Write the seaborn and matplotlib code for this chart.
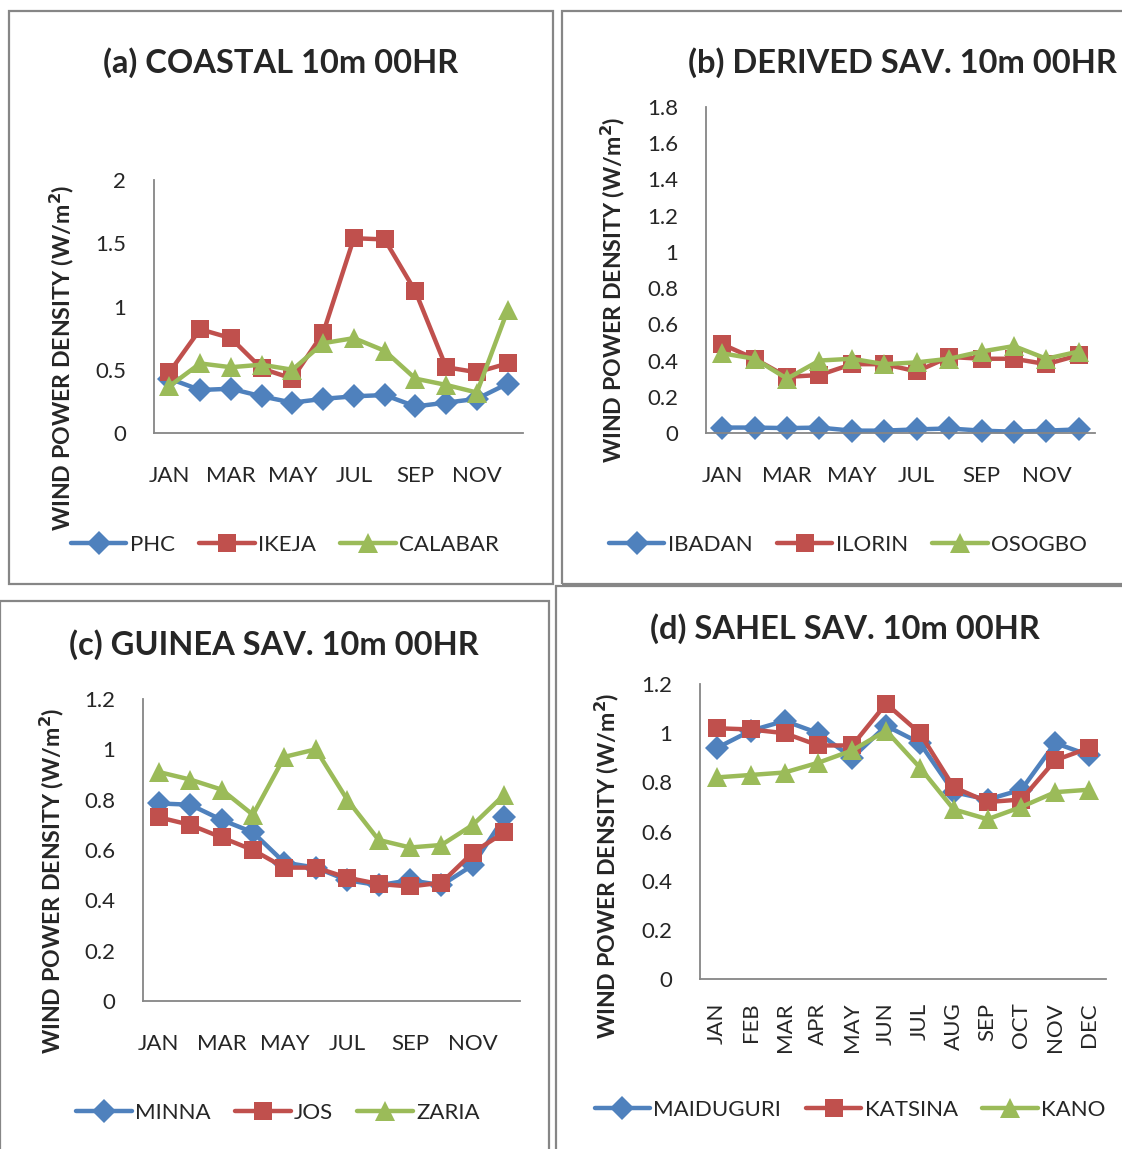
import numpy as np
import pandas as pd
import matplotlib
matplotlib.use("Agg")
import matplotlib.pyplot as plt
from matplotlib.patches import Rectangle
import seaborn as sns

sns.set_style("white")
plt.rcParams['font.family'] = ['Lato', 'DejaVu Sans']

months = ["JAN", "FEB", "MAR", "APR", "MAY", "JUN", "JUL", "AUG", "SEP", "OCT", "NOV", "DEC"]

# (a) Coastal
coastal_names = ["PHC", "IKEJA", "CALABAR"]
phc = [0.43, 0.34, 0.35, 0.29, 0.24, 0.27, 0.29, 0.30, 0.21, 0.24, 0.27, 0.39]
ikeja = [0.48, 0.82, 0.75, 0.51, 0.43, 0.79, 1.54, 1.53, 1.12, 0.52, 0.48, 0.55]
calabar = [0.37, 0.55, 0.52, 0.54, 0.50, 0.71, 0.75, 0.65, 0.43, 0.38, 0.32, 0.97]

# (b) Derived savannah
derived_names = ["IBADAN", "ILORIN", "OSOGBO"]
ibadan = [0.03, 0.03, 0.027, 0.03, 0.013, 0.013, 0.02, 0.025, 0.013, 0.007, 0.013, 0.02]
ilorin = [0.49, 0.41, 0.31, 0.32, 0.38, 0.38, 0.34, 0.42, 0.41, 0.41, 0.38, 0.43]
osogbo = [0.44, 0.41, 0.30, 0.40, 0.41, 0.38, 0.39, 0.41, 0.45, 0.48, 0.41, 0.45]

# (c) Guinea savannah
guinea_names = ["MINNA", "JOS", "ZARIA"]
minna = [0.785, 0.78, 0.72, 0.67, 0.55, 0.53, 0.48, 0.46, 0.48, 0.46, 0.54, 0.73]
jos = [0.73, 0.70, 0.65, 0.60, 0.53, 0.53, 0.49, 0.465, 0.455, 0.47, 0.59, 0.67]
zaria = [0.91, 0.88, 0.84, 0.74, 0.97, 1.00, 0.80, 0.64, 0.61, 0.62, 0.70, 0.82]

# (d) Sahel savannah
sahel_names = ["MAIDUGURI", "KATSINA", "KANO"]
maiduguri = [0.94, 1.01, 1.05, 1.00, 0.90, 1.03, 0.96, 0.76, 0.73, 0.77, 0.96, 0.91]
katsina = [1.02, 1.015, 1.00, 0.95, 0.95, 1.12, 1.00, 0.78, 0.72, 0.73, 0.89, 0.94]
kano = [0.82, 0.83, 0.84, 0.88, 0.93, 1.01, 0.86, 0.69, 0.65, 0.70, 0.76, 0.77]

colors = ["#4F81BD", "#C0504D", "#9BBB59"]
marks = ["D", "s", "^"]
msizes = [12, 13, 14]

W, H = 1122, 1149
fig = plt.figure(figsize=(W / 100, H / 100), dpi=100)
fig.patch.set_facecolor("white")
GREY = "#868686"


def fx(px):
    return px / W


def fy(py):
    return 1 - py / H


# panel borders
for (x0, y0, x1, y1) in [(9, 11, 553, 584), (562, 11, 1126, 584), (0, 601, 549, 1153), (556, 586, 1126, 1153)]:
    fig.patches.append(Rectangle((fx(x0), fy(y1)), fx(x1 - x0), (y1 - y0) / H,
                                 transform=fig.transFigure, fill=False,
                                 edgecolor=GREY, lw=1.6, zorder=0))


def panel(left, right, top_val_px, zero_px, ymax, ystep, series, names,
          title, title_xy, ylab_xy, leg_xy, every_other=True):
    ax = fig.add_axes([fx(left), fy(zero_px), fx(right - left), (zero_px - top_val_px) / H])
    rows = []
    for name, vals in zip(names, series):
        for i, v in enumerate(vals):
            rows.append({"month": i, "value": v, "station": name})
    df = pd.DataFrame(rows)
    pal = dict(zip(names, colors))
    mk = dict(zip(names, marks))
    sns.lineplot(data=df, x="month", y="value", hue="station", style="station",
                 hue_order=names, style_order=names, palette=pal, markers=mk,
                 dashes=False, lw=3.2, markersize=13, markeredgewidth=0,
                 ax=ax, legend=False, errorbar=None)
    for ln, ms in zip(ax.lines, msizes):
        ln.set_markersize(ms)
        ln.set_markeredgewidth(0)
    ax.set_xlim(-0.5, len(months) - 0.5)
    ax.set_ylim(0, ymax)
    ax.set_yticks(np.round(np.arange(0, ymax + 1e-9, ystep), 2))
    ax.yaxis.set_major_formatter(matplotlib.ticker.FuncFormatter(lambda v, p: f"{v:g}"))
    if every_other:
        ax.set_xticks(range(0, len(months), 2))
        ax.set_xticklabels(months[::2])
        ax.tick_params(axis="x", pad=24, labelsize=16, length=0)
    else:
        ax.set_xticks(range(len(months)))
        ax.set_xticklabels(months, rotation=90, va="top", ha="center")
        ax.tick_params(axis="x", pad=17, labelsize=16, length=0)
    ax.tick_params(axis="y", pad=20, labelsize=16, length=0)
    ax.set_xlabel("")
    ax.set_ylabel("")
    for s in ["top", "right"]:
        ax.spines[s].set_visible(False)
    for s in ["left", "bottom"]:
        ax.spines[s].set_color(GREY)
        ax.spines[s].set_linewidth(1.3)
    ax.patch.set_visible(False)
    for ln in ax.lines:
        ln.set_clip_on(False)
    fig.text(fx(title_xy[0]), fy(title_xy[1]), title, ha="center", va="center",
             fontsize=23.5, fontweight="bold")
    fig.text(fx(ylab_xy[0]), fy(ylab_xy[1]), "WIND POWER DENSITY (W/m$^{\\mathbf{2}}$)",
             rotation=90, ha="center", va="center", fontsize=16.7, fontweight="bold")
    ax.legend(handles=list(ax.lines[:3]), labels=names, loc="center",
              bbox_to_anchor=(fx(leg_xy[0]), fy(leg_xy[1])),
              bbox_transform=fig.transFigure, ncol=3, frameon=False,
              fontsize=16, handlelength=2.5, handletextpad=0.15,
              columnspacing=1.1)
    return ax


panel(154, 523, 180, 433, 2, 0.5, [phc, ikeja, calabar], coastal_names,
      "(a) COASTAL 10m 00HR", (281, 63), (62, 358), (285, 545))
panel(706, 1095, 107, 433, 1.8, 0.2, [ibadan, ilorin, osogbo], derived_names,
      "(b) DERIVED SAV. 10m 00HR", (902, 63), (613, 290), (848, 545))
panel(143, 520, 699, 1001, 1.2, 0.2, [minna, jos, zaria], guinea_names,
      "(c) GUINEA SAV. 10m 00HR", (274, 645), (52, 881), (278, 1113))
panel(700, 1106, 684, 979, 1.2, 0.2, [maiduguri, katsina, kano], sahel_names,
      "(d) SAHEL SAV. 10m 00HR", (845, 629), (607, 866), (850, 1110), every_other=False)

fig.savefig("out.png", dpi=100, facecolor="white")
